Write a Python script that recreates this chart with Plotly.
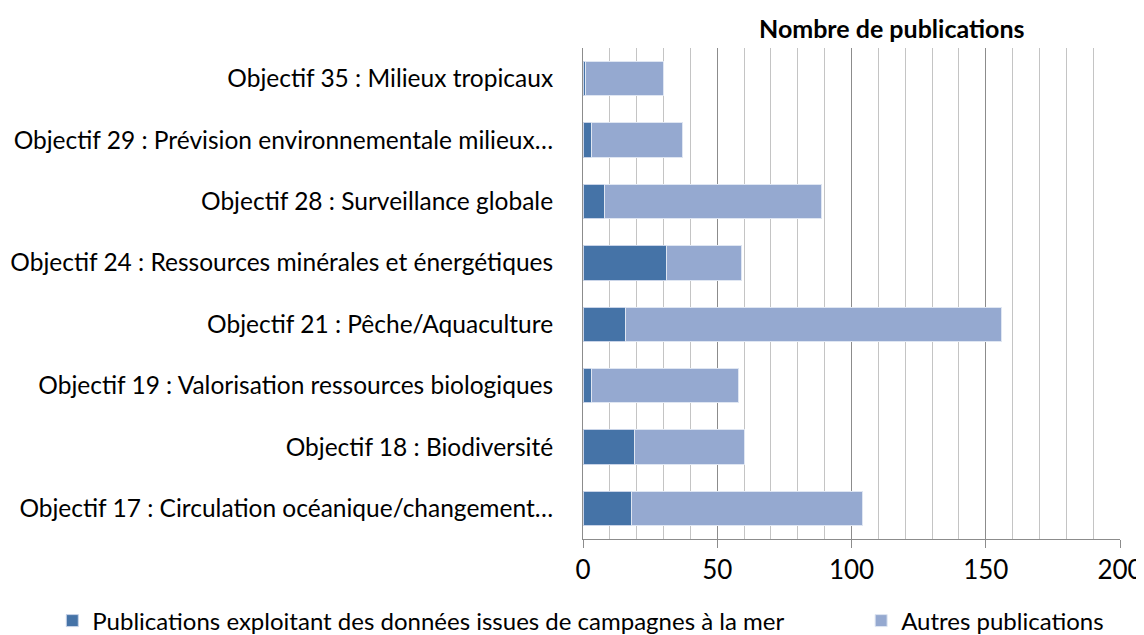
"""
Nombre de publications par objectif : publications exploitant des données
issues de campagnes à la mer vs autres publications.
"""
import plotly.graph_objects as graph

objectifs = ["Objectif 17 : Circulation océanique/changement…",
             "Objectif 18 : Biodiversité",
             "Objectif 19 : Valorisation ressources biologiques",
             "Objectif 21 : Pêche/Aquaculture",
             "Objectif 24 : Ressources minérales et énergétiques",
             "Objectif 28 : Surveillance globale",
             "Objectif 29 : Prévision environnementale milieux…",
             "Objectif 35 : Milieux tropicaux"]
campagnes = [18, 19, 3, 16, 31, 8, 3, 1]
autres = [86, 41, 55, 140, 28, 81, 34, 29]

FONT = "Lato"
# the page body has an 8px margin, so the figure is a bit smaller than the window
W, H = 1136, 627
L, R, T, B = 575, 24, 40, 96

fig = graph.Figure()
fig.add_trace(graph.Bar(y=objectifs, x=campagnes, orientation='h',
                        name="Publications exploitant des données issues de campagnes à la mer",
                        marker=dict(color='#4573A7', line=dict(color='#c9d4e8', width=1)),
                        legend='legend', showlegend=True))
fig.add_trace(graph.Bar(y=objectifs, x=autres, orientation='h',
                        name="Autres publications",
                        marker=dict(color='#95A9D0', line=dict(color='#dfe6f2', width=1)),
                        legend='legend2', showlegend=True))

fig.update_layout(
    barmode='stack', bargap=0.44, showlegend=True,
    width=W, height=H,
    margin=dict(l=L, r=R, t=T, b=B, autoexpand=False),
    paper_bgcolor='white', plot_bgcolor='white',
    font=dict(family=FONT, size=24, color='black'),
    xaxis=dict(range=[0, 200], dtick=50, showgrid=True, gridcolor='#8c8c8c', gridwidth=1,
               minor=dict(dtick=10, showgrid=True, gridcolor='#c4c4c4', gridwidth=1),
               ticks='outside', ticklen=8, tickcolor='#8c8c8c',
               showline=True, linecolor='#8c8c8c', zeroline=False,
               tickfont=dict(size=26), automargin=False),
    yaxis=dict(showline=True, linecolor='#8c8c8c', ticks='', ticklabelstandoff=24,
               tickfont=dict(size=24.5), automargin=False),
    legend=dict(orientation='h', xref='container', yref='container',
                x=0.039, y=1 - 613 / H, xanchor='left', yanchor='middle',
                font=dict(size=24), bgcolor='rgba(0,0,0,0)'),
    legend2=dict(orientation='h', xref='container', yref='container',
                 x=0.751, y=1 - 613 / H, xanchor='left', yanchor='middle',
                 font=dict(size=24), bgcolor='rgba(0,0,0,0)'),
    annotations=[dict(text="<b>Nombre de publications</b>",
                      x=(884 - L) / (W - L - R), y=1 + (T - 20) / (H - T - B),
                      xref='paper', yref='paper', xanchor='center', yanchor='middle',
                      showarrow=False, font=dict(size=25))],
)

fig.write_html("out.html")
